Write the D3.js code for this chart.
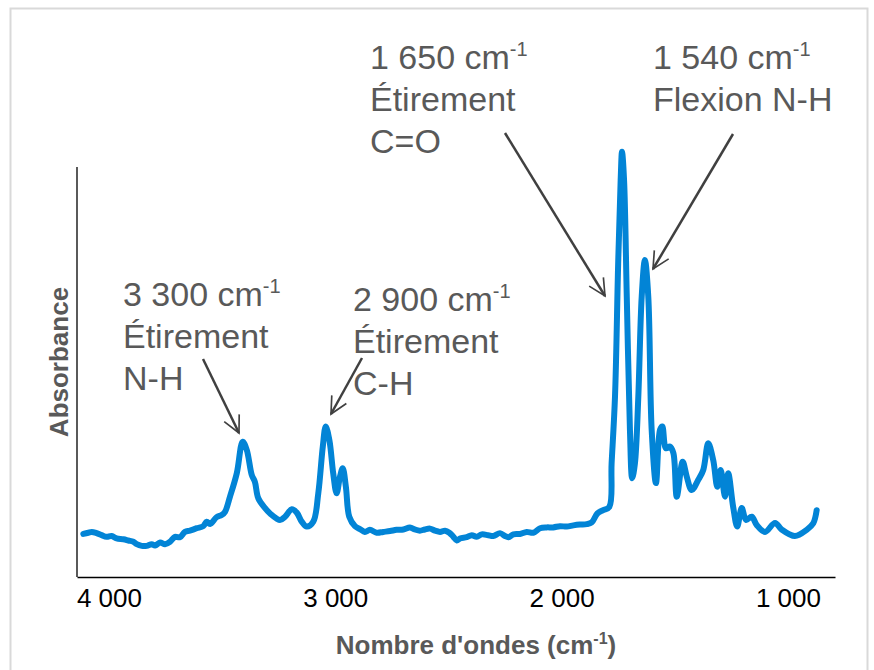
<!DOCTYPE html>
<html>
<head>
<meta charset="utf-8">
<script src="https://cdn.jsdelivr.net/npm/d3@7"></script>
<style>
  body { margin: 0; background: #fff; }
  svg { display: block; font-family: "Liberation Sans", Arial, sans-serif; }
</style>
</head>
<body>
<div id="chart"></div>
<script>
// spectre IR
var wavenumbers = [4113, 4091, 4076, 4054, 4032, 4010, 3988, 3966, 3936, 3914, 3892, 3877, 3855, 3833, 3811, 3796,
  3774, 3752, 3730, 3708, 3686, 3664, 3642, 3612, 3583, 3568, 3553, 3524, 3502, 3487,
  3465, 3435, 3409, 3391, 3369, 3355, 3340, 3310, 3288, 3244, 3222, 3192, 3170, 3148, 3126, 3097, 3075, 3055, 3042,
  3026, 3009, 2994, 2979, 2967, 2953, 2938, 2913,
  2891, 2869, 2847, 2817, 2788, 2758, 2729, 2699, 2670, 2648, 2626, 2604, 2581, 2559, 2537, 2515, 2496, 2478, 2463,
  2449, 2419, 2397, 2375, 2353, 2324, 2302, 2272, 2250, 2235, 2213, 2184, 2154, 2125, 2095, 2066, 2037, 2007, 1977,
  1948, 1919, 1889, 1867,
  1842, 1816, 1789, 1779, 1764, 1750, 1739, 1733, 1724, 1712, 1698, 1688, 1676, 1661, 1646, 1632, 1617, 1602, 1583,
  1565, 1555, 1539, 1521, 1506, 1491, 1465, 1447, 1425, 1396, 1374, 1352, 1330, 1312, 1297, 1278, 1264, 1242, 1224,
  1204, 1185, 1160, 1138, 1101, 1057, 1028, 969, 917, 888, 873];
var absorbance = [0.105, 0.108, 0.110, 0.107, 0.102, 0.098, 0.100, 0.094, 0.092, 0.089, 0.086, 0.080, 0.076, 0.076,
  0.080, 0.077, 0.084, 0.080, 0.086, 0.098, 0.097, 0.110, 0.113, 0.119, 0.124, 0.135, 0.129, 0.146, 0.151, 0.159,
  0.196, 0.253, 0.330, 0.310, 0.249, 0.232, 0.192, 0.168, 0.155, 0.139, 0.147, 0.165, 0.157, 0.135, 0.123, 0.135,
  0.204, 0.318, 0.367, 0.334, 0.253, 0.204, 0.245, 0.265, 0.220, 0.147, 0.124,
  0.117, 0.110, 0.115, 0.108, 0.110, 0.112, 0.115, 0.116, 0.121, 0.116, 0.113, 0.116, 0.118, 0.113, 0.110, 0.113,
  0.108, 0.098, 0.089, 0.094, 0.097, 0.102, 0.098, 0.104, 0.102, 0.100, 0.107, 0.100, 0.097, 0.104, 0.105, 0.110,
  0.108, 0.119, 0.121, 0.121, 0.124, 0.123, 0.126, 0.128, 0.129, 0.133,
  0.155, 0.163, 0.171, 0.277, 0.440, 0.765, 0.968, 1.037, 0.968, 0.684, 0.359, 0.241, 0.277, 0.440, 0.684, 0.773,
  0.684, 0.359, 0.229, 0.359, 0.367, 0.314, 0.318, 0.302, 0.196, 0.281, 0.245, 0.212, 0.237, 0.261, 0.326, 0.285,
  0.220, 0.261, 0.196, 0.253, 0.171, 0.123, 0.168, 0.139, 0.147, 0.127, 0.110, 0.132, 0.116, 0.100, 0.115, 0.131,
  0.163];
var xTicks = [4000, 3000, 2000, 1000];

var annotations = [
  { value: "3 300", lines: ["Étirement", "N-H"], tx: 123, ty: 306, from: [203, 359], to: [239, 433] },
  { value: "2 900", lines: ["Étirement", "C-H"], tx: 353, ty: 311, from: [362, 358], to: [331, 414] },
  { value: "1 650", lines: ["Étirement", "C=O"], tx: 370, ty: 69, from: [505, 133], to: [605, 296] },
  { value: "1 540", lines: ["Flexion N-H"], tx: 653, ty: 69, from: [733, 134], to: [653, 269] }
];

var W = 874, H = 670;
var margin = {top: 167, right: 39, bottom: 93, left: 77},
    width = W - margin.left - margin.right,
    height = H - margin.top - margin.bottom;

var svg = d3.select("#chart").append("svg")
    .attr("width", W)
    .attr("height", H);

// cadre
svg.append("rect")
    .attr("x", 10.5).attr("y", 8.5)
    .attr("width", 857).attr("height", 680)
    .attr("fill", "none")
    .attr("stroke", "#d9d9d9")
    .attr("stroke-width", 2);

var x = d3.scaleLinear().domain([4141, 792]).range([0, width]),
    y = d3.scaleLinear().domain([0, 1]).range([height, 0]);

var g = svg.append("g")
    .attr("transform", "translate(" + margin.left + "," + margin.top + ")");

// axes
g.append("line")
    .attr("x1", 0).attr("x2", 0).attr("y1", 0).attr("y2", height)
    .attr("stroke", "#000").attr("stroke-width", 1.3);

var xAxis = g.append("g")
    .attr("transform", "translate(0," + height + ")")
    .call(d3.axisBottom(x).tickValues(xTicks).tickSize(0).tickPadding(12)
      .tickFormat(function(d) { return d3.format(",")(d).replace(",", " "); }));
xAxis.select(".domain").attr("stroke", "#000").attr("stroke-width", 1.3);
xAxis.selectAll("text")
    .attr("font-size", 26)
    .attr("font-family", "Liberation Sans, Arial, sans-serif")
    .attr("fill", "#000");

// titres des axes
var xt = svg.append("text")
    .attr("x", 476).attr("y", 654)
    .attr("text-anchor", "middle")
    .attr("font-size", 26).attr("font-weight", "bold")
    .attr("fill", "#595959");
xt.append("tspan").text("Nombre d'ondes (cm");
xt.append("tspan").attr("font-size", 16).attr("dy", -10).text("-1");
xt.append("tspan").attr("dy", 10).text(")");

svg.append("text")
    .attr("transform", "translate(68,362) rotate(-90)")
    .attr("text-anchor", "middle")
    .attr("font-size", 26).attr("font-weight", "bold")
    .attr("fill", "#595959")
    .text("Absorbance");

// spectre
var points = wavenumbers.map(function(w, i) { return [w, absorbance[i]]; });
var line = d3.line()
    .x(function(d) { return x(d[0]); })
    .y(function(d) { return y(d[1]); })
    .curve(d3.curveCatmullRom);

g.append("path")
    .datum(points)
    .attr("fill", "none")
    .attr("stroke", "#0284d6")
    .attr("stroke-width", 6)
    .attr("stroke-linejoin", "round")
    .attr("stroke-linecap", "round")
    .attr("d", line);

// annotations
svg.append("defs").append("marker")
    .attr("id", "arrow")
    .attr("viewBox", "0 0 12 12")
    .attr("refX", 11).attr("refY", 6)
    .attr("markerWidth", 8).attr("markerHeight", 8)
    .attr("markerUnits", "strokeWidth")
    .attr("orient", "auto")
  .append("path")
    .attr("d", "M1,1 L11,6 L1,11")
    .attr("fill", "none")
    .attr("stroke", "#404040")
    .attr("stroke-width", 1);

annotations.forEach(function(a) {
  var t = svg.append("text")
      .attr("x", a.tx).attr("y", a.ty)
      .attr("font-size", 34)
      .attr("fill", "#595959");
  t.append("tspan").text(a.value + " cm");
  t.append("tspan").attr("font-size", 20).attr("dy", -13).text("-1");
  a.lines.forEach(function(l, i) {
    t.append("tspan").attr("x", a.tx).attr("dy", i == 0 ? 55 : 42).text(l);
  });

  svg.append("line")
      .attr("x1", a.from[0]).attr("y1", a.from[1])
      .attr("x2", a.to[0]).attr("y2", a.to[1])
      .attr("stroke", "#404040")
      .attr("stroke-width", 2.5)
      .attr("marker-end", "url(#arrow)");
});
</script>
</body>
</html>
